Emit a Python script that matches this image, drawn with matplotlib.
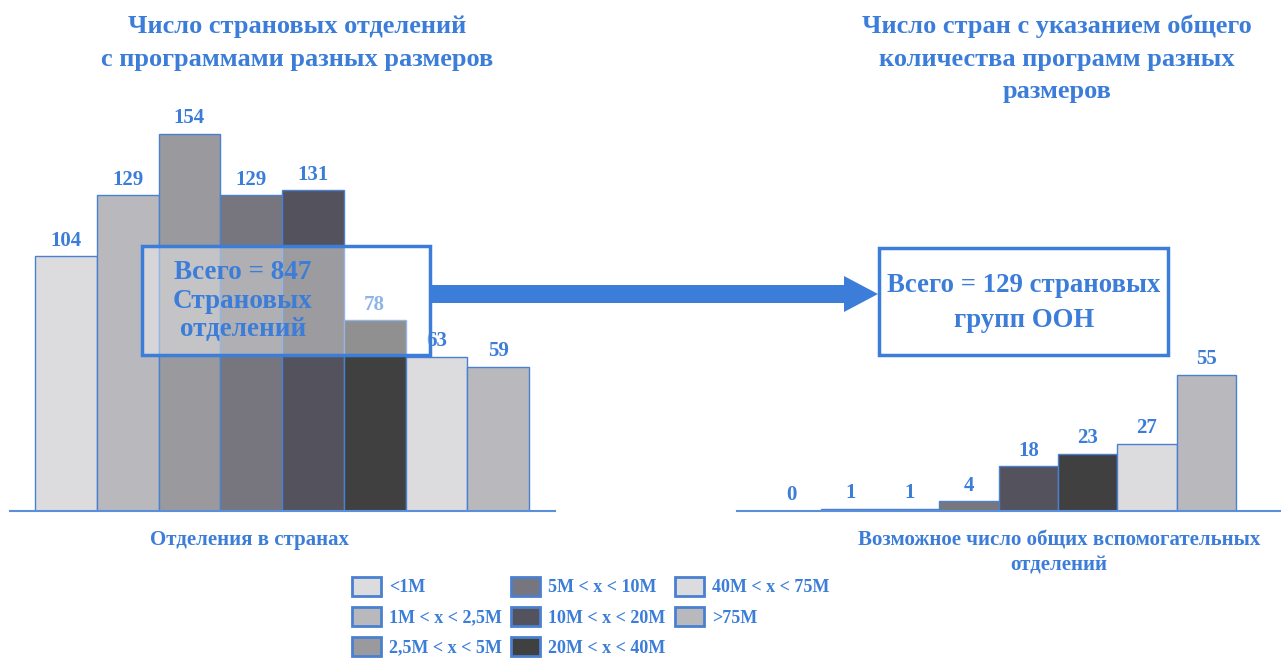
import matplotlib.pyplot as plt
from matplotlib.patches import Patch, Rectangle, FancyArrow

plt.rcParams['font.family'] = 'Liberation Serif'
plt.rcParams['font.weight'] = 'bold'

BLUE = '#3b7dd8'
EDGE = '#4a80d0'

size_labels = ['<1M', '1M < x < 2,5M', '2,5M < x < 5M', '5M < x < 10M',
               '10M < x < 20M', '20M < x < 40M', '40M < x < 75M', '>75M']
bar_colors = ['#dcdcde', '#b9b8bd', '#9a999e', '#77767e',
              '#54535d', '#404040', '#dcdcde', '#b9b8bd']

offices = [104, 129, 154, 129, 131, 78, 63, 59]
countries = [0, 1, 1, 4, 18, 23, 27, 55]

W, H = 1281, 659
fig = plt.figure(figsize=(W / 100, H / 100), dpi=100)


def px_axes(x0, x1, y_base, height):
    # axes placed by pixel coords (y measured from top of image)
    return fig.add_axes([x0 / W, (H - y_base) / H, (x1 - x0) / W, height / H])


def bar_panel(ax, values, xlim, ylim):
    x = list(range(len(values)))
    bars = ax.bar(x, values, width=1.0, color=bar_colors, edgecolor=EDGE, linewidth=1.0)
    for b, v in zip(bars, values):
        ax.annotate(str(v), (b.get_x() + b.get_width() / 2, v), xytext=(0, 4),
                    textcoords='offset points', ha='center', va='bottom',
                    fontsize=15, color=BLUE, fontweight='bold')
    ax.set_xlim(*xlim)
    ax.set_ylim(*ylim)
    for s in ['top', 'right', 'left']:
        ax.spines[s].set_visible(False)
    ax.spines['bottom'].set_color('#5b8fdc')
    ax.spines['bottom'].set_linewidth(1.5)
    ax.set_xticks([])
    ax.set_yticks([])
    ax.patch.set_alpha(0)


# left chart
ax1 = px_axes(10, 555, 511, 170 * 2.448)
bar_panel(ax1, offices, (-0.905, 7.92), (0, 170))

# right chart
ax2 = px_axes(737, 1281, 511, 170 * 2.48)
bar_panel(ax2, countries, (-0.913, 8.26), (0, 170))

# overlay in pixel coords for boxes, arrow and text
ov = fig.add_axes([0, 0, 1, 1], zorder=5)
ov.set_xlim(0, W)
ov.set_ylim(H, 0)
ov.axis('off')

ov.add_patch(Rectangle((142, 246), 288, 109, facecolor=(1, 1, 1, 0.42),
                       edgecolor=BLUE, linewidth=2.5))
ov.text(243, 301, 'Всего = 847\nСтрановых\nотделений', ha='center', va='center',
        fontsize=19.5, color=BLUE, fontweight='bold', linespacing=1.2)

ov.add_patch(FancyArrow(430, 294, 448, 0, width=18, head_width=36, head_length=34,
                        length_includes_head=True, color=BLUE, linewidth=0))

ov.add_patch(Rectangle((879, 248), 289, 107, facecolor='white',
                       edgecolor=BLUE, linewidth=2.5))
ov.text(1024, 303, 'Всего = 129 страновых\nгрупп ООН', ha='center', va='center',
        fontsize=19.3, color=BLUE, fontweight='bold', linespacing=1.5)

# titles
ov.text(297, 43, 'Число страновых отделений\nс программами разных размеров',
        ha='center', va='center', fontsize=19, color=BLUE, fontweight='bold',
        linespacing=1.52)
ov.text(1057, 59, 'Число стран с указанием общего\nколичества программ разных\nразмеров',
        ha='center', va='center', fontsize=19, color=BLUE, fontweight='bold',
        linespacing=1.52)

# axis captions
ov.text(250, 540, 'Отделения в странах', ha='center', va='center',
        fontsize=15, color=BLUE, fontweight='bold')
ov.text(1059, 553, 'Возможное число общих вспомогательных\nотделений', ha='center',
        va='center', fontsize=15, color=BLUE, fontweight='bold', linespacing=1.3)

# legend
handles = [Patch(facecolor=c, edgecolor=EDGE, linewidth=2) for c in bar_colors]
leg = fig.legend(handles, size_labels, loc='upper left',
                 bbox_to_anchor=(352 / W, (H - 577) / H),
                 ncol=3, frameon=False, fontsize=13, labelcolor=BLUE, borderpad=0,
                 handlelength=1.6, handleheight=1.2, handletextpad=0.45,
                 columnspacing=0.52, labelspacing=0.6, borderaxespad=0,
                 prop={'family': 'Liberation Serif', 'weight': 'bold', 'size': 13})

fig.savefig('out.png', dpi=100)
